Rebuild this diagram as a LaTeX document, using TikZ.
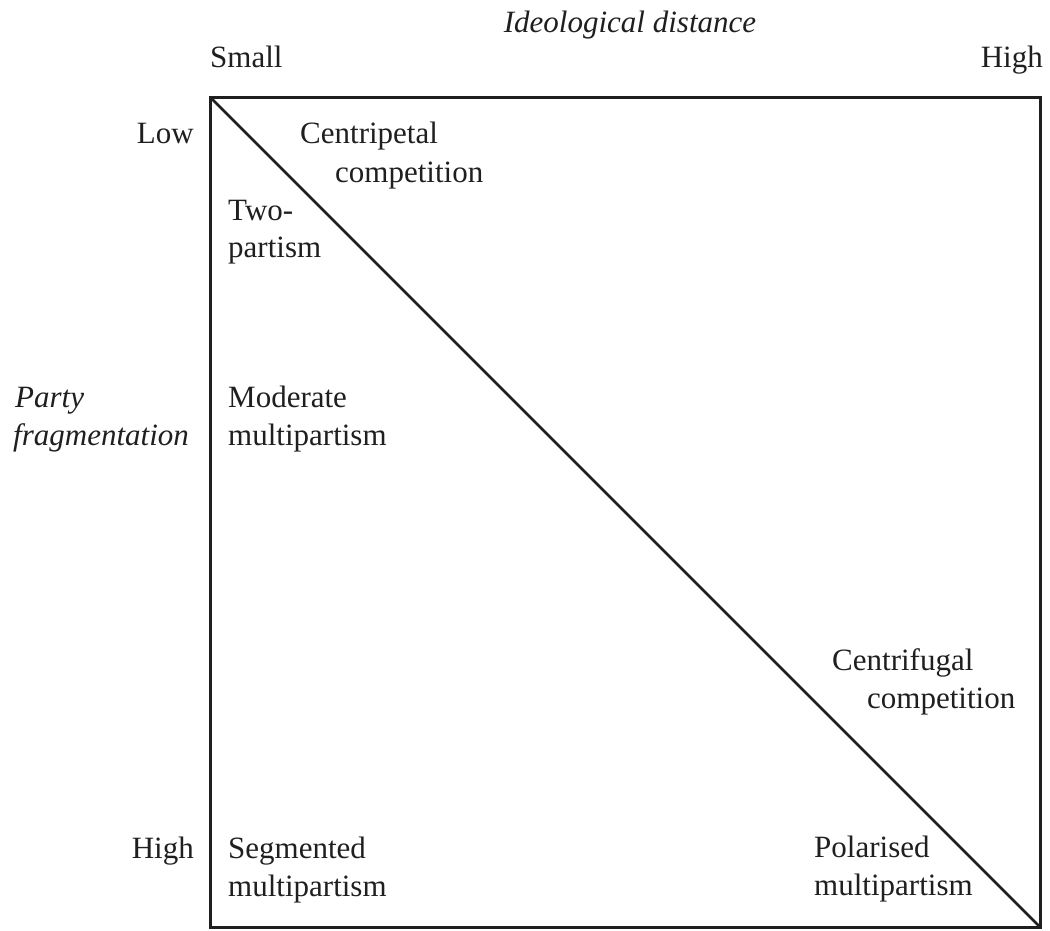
\documentclass[tikz,border=0pt]{standalone}
\usepackage{fontspec}
\setmainfont{Liberation Serif}
\begin{document}
\begin{tikzpicture}[x=1pt,y=-1pt,
  lbl/.style={inner sep=0pt, font=\fontsize{31}{37}\selectfont, text=black!88},
  lw/.style={lbl, anchor=base west},
  le/.style={lbl, anchor=base east},
  frame/.style={draw=black!88, line width=3pt},
  diag/.style={draw=black!88, line width=2.6pt}]
\useasboundingbox (0,0) rectangle (1050,930);
\coordinate (tl) at (210,97);
\coordinate (br) at (1040,927);
\draw[frame] (tl) rectangle (br);
\draw[diag] (tl) -- (br);
% axis labels
\node[lbl, anchor=base, font=\fontsize{31}{37}\selectfont\itshape] (ideo) at (630,32) {Ideological distance};
\node[lw] (small) at (210,67) {Small};
\node[le] (hightop) at (1043,67) {High};
\node[le] (low) at (194,143) {Low};
\node[le] (highleft) at (194,858) {High};
\node[lw, font=\fontsize{31}{37}\selectfont\itshape] (party) at (15,407) {Party};
\node[lw, font=\fontsize{31}{37}\selectfont\itshape] (frag) at (13,445) {fragmentation};
% cells
\node[lw] (cp1) at (300,143) {Centripetal};
\node[lw] (cp2) at (335,182) {competition};
\node[lw] (two1) at (228,220) {Two-};
\node[lw] (two2) at (228,257) {partism};
\node[lw] (mod1) at (228,407) {Moderate};
\node[lw] (mod2) at (228,445) {multipartism};
\node[lw] (cf1) at (832,670) {Centrifugal};
\node[lw] (cf2) at (867,708) {competition};
\node[lw] (seg1) at (228,858) {Segmented};
\node[lw] (seg2) at (228,896) {multipartism};
\node[lw] (pol1) at (814,857) {Polarised};
\node[lw] (pol2) at (814,895) {multipartism};
\end{tikzpicture}
\end{document}
